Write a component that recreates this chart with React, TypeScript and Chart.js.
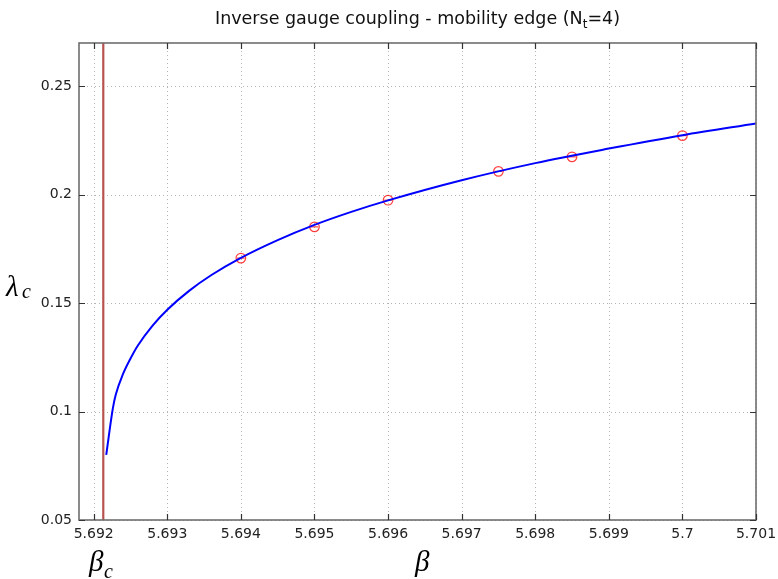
import React, { useEffect, useRef } from "react";
import { Chart, registerables } from "chart.js";
Chart.register(...registerables);

// ---- data ----
const xTicks = [5.692, 5.693, 5.694, 5.695, 5.696, 5.697, 5.698, 5.699, 5.7, 5.701];
const xTickLabels = ["5.692", "5.693", "5.694", "5.695", "5.696", "5.697", "5.698", "5.699", "5.7", "5.701"];
const yTicks = [0.05, 0.1, 0.15, 0.2, 0.25];
const yTickLabels = ["0.05", "0.1", "0.15", "0.2", "0.25"];
const betaRange = [5.6918, 5.701];
const lambdaRange = [0.05, 0.27];
const betaC = 5.69213;

const fitBeta = [5.69217, 5.69226, 5.6923, 5.6924, 5.6925, 5.6926, 5.6928, 5.693, 5.6933, 5.6936, 5.694, 5.6945, 5.695, 5.6955, 5.696, 5.697, 5.698, 5.699, 5.7, 5.701];
const fitLambda = [0.080, 0.1015, 0.1079, 0.1175, 0.1245, 0.1305, 0.1397, 0.1470, 0.1558, 0.1630, 0.1709, 0.1791, 0.1861, 0.1921, 0.1974, 0.2067, 0.2146, 0.2213, 0.2275, 0.2329];

const dataBeta = [5.694, 5.695, 5.696, 5.6975, 5.6985, 5.7];
const dataLambda = [0.1708, 0.1852, 0.1975, 0.2108, 0.2175, 0.2273];

const decor = {
  id: "decor",
  beforeDatasetsDraw(chart: any) {
    const { ctx, chartArea: a, scales } = chart;
    ctx.save();
    ctx.strokeStyle = "#b4b4b4";
    ctx.lineWidth = 1;
    ctx.setLineDash([1, 3]);
    xTicks.forEach((v) => {
      const px = Math.round(scales.x.getPixelForValue(v)) + 0.5;
      ctx.beginPath();
      ctx.moveTo(px, a.top);
      ctx.lineTo(px, a.bottom);
      ctx.stroke();
    });
    yTicks.forEach((v) => {
      const py = Math.round(scales.y.getPixelForValue(v)) + 0.5;
      ctx.beginPath();
      ctx.moveTo(a.left, py);
      ctx.lineTo(a.right, py);
      ctx.stroke();
    });
    ctx.restore();
  },
  afterDatasetsDraw(chart: any) {
    const { ctx, chartArea: a, scales } = chart;
    ctx.save();
    // frame
    ctx.setLineDash([]);
    ctx.strokeStyle = "#6e6e6e";
    ctx.lineWidth = 1.6;
    ctx.strokeRect(a.left, a.top, a.right - a.left, a.bottom - a.top);
    // inner ticks
    ctx.strokeStyle = "#333";
    ctx.lineWidth = 1.2;
    const L = 6;
    xTicks.forEach((v) => {
      const px = Math.round(scales.x.getPixelForValue(v)) + 0.5;
      ctx.beginPath();
      ctx.moveTo(px, a.bottom);
      ctx.lineTo(px, a.bottom - L);
      ctx.moveTo(px, a.top);
      ctx.lineTo(px, a.top + L);
      ctx.stroke();
    });
    yTicks.forEach((v) => {
      const py = Math.round(scales.y.getPixelForValue(v)) + 0.5;
      ctx.beginPath();
      ctx.moveTo(a.left, py);
      ctx.lineTo(a.left + L, py);
      ctx.moveTo(a.right, py);
      ctx.lineTo(a.right - L, py);
      ctx.stroke();
    });
    // title with subscript
    ctx.fillStyle = "#111";
    ctx.textBaseline = "alphabetic";
    ctx.textAlign = "left";
    const mainFont = '17.5px "DejaVu Sans"';
    const subFont = '12px "DejaVu Sans"';
    const p1 = "Inverse gauge coupling - mobility edge (N";
    const p2 = "t";
    const p3 = "=4)";
    ctx.font = mainFont;
    const w1 = ctx.measureText(p1).width;
    const w3 = ctx.measureText(p3).width;
    ctx.font = subFont;
    const w2 = ctx.measureText(p2).width;
    const total = w1 + w2 + w3;
    const cx = (a.left + a.right) / 2;
    let x = cx - total / 2;
    const by = 24;
    ctx.font = mainFont;
    ctx.fillText(p1, x, by);
    x += w1;
    ctx.font = subFont;
    ctx.fillText(p2, x, by + 4);
    x += w2;
    ctx.font = mainFont;
    ctx.fillText(p3, x, by);
    // axis labels
    ctx.fillStyle = "#000";
    ctx.font = 'italic 29px "Liberation Serif"';
    ctx.fillText("λ", 6, 296);
    ctx.font = 'italic 20px "Liberation Serif"';
    ctx.fillText("c", 22, 298);
    ctx.font = 'italic 29px "Liberation Serif"';
    ctx.fillText("β", 89, 571);
    ctx.font = 'italic 20px "Liberation Serif"';
    ctx.fillText("c", 104, 578);
    ctx.font = 'italic 29px "Liberation Serif"';
    ctx.fillText("β", 415, 571);
    ctx.restore();
  },
};

export default function App() {
  const ref = useRef<HTMLCanvasElement | null>(null);
  useEffect(() => {
    document.body.style.margin = "0";
    if (!ref.current) return;
    const chart = new Chart(ref.current, {
      type: "line",
      data: {
        datasets: [
          {
            label: "fit",
            data: fitBeta.map((b, i) => ({ x: b, y: fitLambda[i] })),
            borderColor: "#0000ff",
            borderWidth: 2,
            pointRadius: 0,
            cubicInterpolationMode: "monotone",
            fill: false,
            order: 0,
          },
          {
            label: "data",
            data: dataBeta.map((b, i) => ({ x: b, y: dataLambda[i] })),
            showLine: false,
            pointStyle: "circle",
            pointRadius: 4.8,
            borderColor: "rgba(255,0,0,0.75)",
            backgroundColor: "rgba(0,0,0,0)",
            pointBorderWidth: 1.2,
            order: 1,
          },
          {
            label: "bars",
            data: dataBeta.map((b, i) => ({ x: b, y: dataLambda[i] })),
            showLine: false,
            pointStyle: "line",
            pointRadius: 3.8,
            borderColor: "rgba(255,0,0,0.75)",
            pointBorderWidth: 1.2,
            order: 1,
          },
          {
            label: "betaC",
            data: [
              { x: betaC, y: lambdaRange[0] },
              { x: betaC, y: lambdaRange[1] },
            ],
            borderColor: "#b8524f",
            borderWidth: 2.2,
            pointRadius: 0,
            order: 2,
          },
        ],
      },
      options: {
        responsive: false,
        animation: false,
        events: [],
        layout: { padding: { top: 43, right: 22, left: 0, bottom: 0 } },
        plugins: { legend: { display: false }, tooltip: { enabled: false }, title: { display: false } },
        scales: {
          x: {
            type: "linear",
            min: betaRange[0],
            max: betaRange[1],
            afterBuildTicks: (s: any) => {
              s.ticks = xTicks.map((v) => ({ value: v }));
            },
            afterFit: (s: any) => {
              s.height = 59;
              s.paddingRight = 0;
              s.paddingLeft = 0;
            },
            ticks: {
              autoSkip: false,
              maxRotation: 0,
              padding: 6,
              color: "#222",
              font: { family: "DejaVu Sans", size: 14 },
              callback: (_v: any, i: number) => xTickLabels[i],
            },
            grid: { display: false, drawTicks: false },
            border: { display: false },
          },
          y: {
            type: "linear",
            min: lambdaRange[0],
            max: lambdaRange[1],
            afterBuildTicks: (s: any) => {
              s.ticks = yTicks.map((v) => ({ value: v }));
            },
            afterFit: (s: any) => {
              s.width = 79;
              s.paddingTop = 0;
              s.paddingBottom = 0;
            },
            ticks: {
              padding: 7,
              color: "#222",
              font: { family: "DejaVu Sans", size: 14 },
              callback: (_v: any, i: number) => yTickLabels[i],
            },
            grid: { display: false, drawTicks: false },
            border: { display: false },
          },
        },
      },
      plugins: [decor],
    } as any);
    return () => chart.destroy();
  }, []);
  return <canvas ref={ref} width={778} height={579} style={{ display: "block" }} />;
}
